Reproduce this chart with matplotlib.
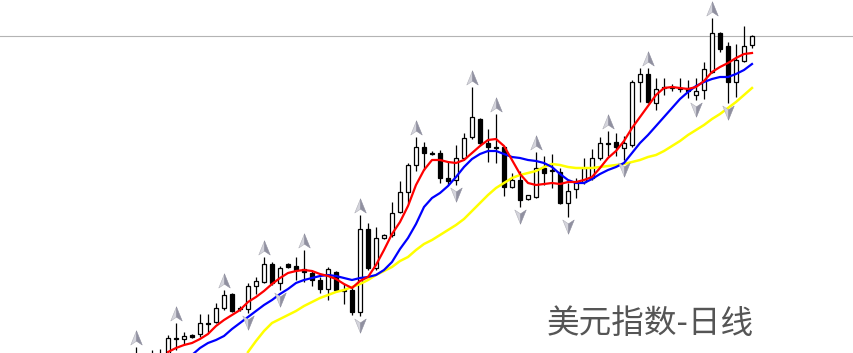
import numpy as np
import matplotlib
matplotlib.use("Agg")
import matplotlib.pyplot as plt
from matplotlib.path import Path

plt.rcParams['font.family'] = ['Noto Sans CJK SC', 'DejaVu Sans']

# daily bars, index points (bar 0 = first visible bar)
opens = [-3, -7, -3, -5, -3, 15, 14, 18, 19, 30, 31, 45, 59, 45, 44, 67, 71, 89, 70, 89,
         87, 84, 80, 73, 64, 81, 63, 63, 41, 124, 85, 115, 118, 141, 161, 188, 206, 200, 200, 175,
         173, 195, 216, 234, 210, 206, 206, 166, 173, 154, 156, 185, 182, 181, 150, 164, 171, 175, 195, 210,
         211, 205, 208, 271, 279, 250, 266, 266, 265, 265, 258, 263, 281, 320, 307, 271, 292, 308]
highs = [6, -2, 3, 4, 18, 30, 21, 19, 39, 39, 50, 63, 60, 47, 70, 76, 96, 91, 87, 90,
         96, 103, 83, 76, 86, 82, 69, 67, 138, 130, 126, 119, 151, 172, 190, 216, 211, 202, 203, 191,
         208, 220, 266, 235, 224, 239, 207, 180, 182, 158, 201, 197, 199, 185, 170, 175, 195, 204, 216, 222,
         220, 217, 273, 285, 285, 275, 275, 269, 275, 273, 275, 291, 335, 321, 311, 309, 327, 318]
lows = [-12, -13, -11, -9, -5, 3, 9, 15, 16, 20, 30, 43, 41, 42, 40, 59, 70, 68, 63, 85,
        73, 71, 67, 60, 53, 62, 49, 38, 37, 83, 83, 114, 116, 140, 150, 182, 183, 198, 170, 168,
        168, 193, 214, 208, 191, 190, 157, 165, 146, 153, 155, 168, 165, 149, 136, 155, 169, 173, 193, 197,
        197, 193, 206, 251, 250, 243, 258, 262, 261, 255, 253, 254, 280, 301, 250, 256, 291, 305]
closes = [-9, -5, -7, -2, 15, 14, 17, 16, 30, 29.5, 45, 58, 42, 44, 67, 72, 89, 70, 85, 86,
          83, 81, 73, 64, 84, 63, 62, 41, 124, 85, 115, 118, 140, 161, 188, 206, 200, 199.5, 175, 172,
          195, 215, 236, 210, 206, 205.5, 166, 173, 153, 158, 185, 180, 183, 150, 162, 171, 185, 195, 210, 209.5,
          206, 210, 271, 279, 251, 264, 265.5, 265.5, 264, 262, 262, 284, 320, 304, 271, 293, 307, 317]

# moving averages (first bar index where each line is visible)
red_start = 4
red_ma = [1, 5, 8, 10, 14, 19, 27, 33, 38, 43, 51, 56, 62, 69, 75, 80, 82, 83, 82, 79,
          77, 74, 69, 65, 72, 76, 88, 103, 119, 131, 147, 168, 183, 193, 193, 191, 190, 193, 200, 207,
          213, 214, 207, 193, 179, 170, 168, 169, 170, 169, 171, 171, 173, 176, 185, 195, 202, 212, 225, 236,
          247, 258, 265, 266, 265, 264, 266, 272, 281, 286, 290, 295, 299, 300]
blue_start = 7
blue_ma = [-2, 5, 10, 13, 17, 24, 30, 36, 42, 48, 53, 59, 64, 70, 73, 75, 77, 78, 77, 75,
           73, 75, 76, 78, 83, 91, 104, 115, 129, 146, 155, 160, 167, 176, 186, 194, 199, 202, 202, 199,
           196, 195, 193, 192, 190, 186, 179, 173, 170, 170, 174, 179, 183, 186, 190, 200, 210, 218, 227, 236,
           245, 254, 261, 267, 271, 274, 276, 276, 279, 283, 289]
yellow_start = 14
yellow_ma = [1, 12, 22, 30, 34, 38, 42, 47, 51, 55, 58, 61, 63, 66, 69, 73, 78, 82, 86, 92,
             96, 103, 109, 113, 118, 123, 128, 134, 142, 150, 158, 165, 170, 175, 178, 180, 182, 186, 189, 188,
             186, 185, 185, 185, 186, 187, 188, 189, 191, 193, 196, 198, 202, 207, 212, 218, 223, 228, 234, 239,
             245, 251, 258, 265]

# fractals
frac_up = [0, 5, 11, 16, 21, 28, 35, 42, 45, 50, 59, 64, 72]
frac_dn = [14, 18, 28, 40, 48, 54, 61, 70, 74]

price_line = 317
title = "美元指数-日线"

opens = np.array(opens, float)
closes = np.array(closes, float)
highs = np.array(highs, float)
lows = np.array(lows, float)
idx = np.arange(len(opens))

fig = plt.figure(figsize=(8.54, 3.53), dpi=100)
ax = fig.add_axes([0, 0, 1, 1])
ax.set_xlim(-17, 89.75)
ax.set_ylim(0, 353)
ax.axis('off')

ax.axhline(price_line, color='#b4b4b4', lw=0.8, zorder=1)

# candles
ax.vlines(idx, lows, highs, color='black', lw=0.9, zorder=2)
up = closes >= opens
body_lo = np.minimum(opens, closes)
body_h = np.maximum(np.abs(closes - opens), 0.01)
ax.bar(idx[up], body_h[up], bottom=body_lo[up], width=0.62, color='white',
       edgecolor='black', linewidth=0.9, zorder=3)
ax.bar(idx[~up], body_h[~up], bottom=body_lo[~up], width=0.62, color='black',
       edgecolor='black', linewidth=0.9, zorder=3)

# moving averages
ax.plot(np.arange(yellow_start, yellow_start + len(yellow_ma)), yellow_ma, color='#ffff00', lw=1.8, zorder=4)
ax.plot(np.arange(blue_start, blue_start + len(blue_ma)), blue_ma, color='#0000ff', lw=1.6, zorder=5)
ax.plot(np.arange(red_start, red_start + len(red_ma)), red_ma, color='#ff0000', lw=1.6, zorder=6)

# fractal arrows, two-tone arrowheads
left_half = Path([(0, 1), (0, -0.35), (-0.75, -0.85), (0, 1)])
right_half = Path([(0, 1), (0.75, -0.85), (0, -0.35), (0, 1)])
flip = lambda p: Path(p.vertices * [1, -1])
fu = np.array(frac_up)
fd = np.array(frac_dn)
for lh, rh, xs, ys in [(left_half, right_half, fu, highs[fu] + 9),
                       (flip(left_half), flip(right_half), fd, lows[fd] - 9)]:
    ax.plot(xs, ys, ls='none', marker=lh, ms=11, mfc='#d4d4dc', mec='#b0b0b8', mew=0.4, zorder=7)
    ax.plot(xs, ys, ls='none', marker=rh, ms=11, mfc='#9090a0', mec='#9090a0', mew=0.4, zorder=7)

ax.text(0.883, 0.036, title, transform=ax.transAxes, ha='right', va='bottom',
        fontsize=23.5, color='#555555')

fig.savefig('out.png', dpi=100)
